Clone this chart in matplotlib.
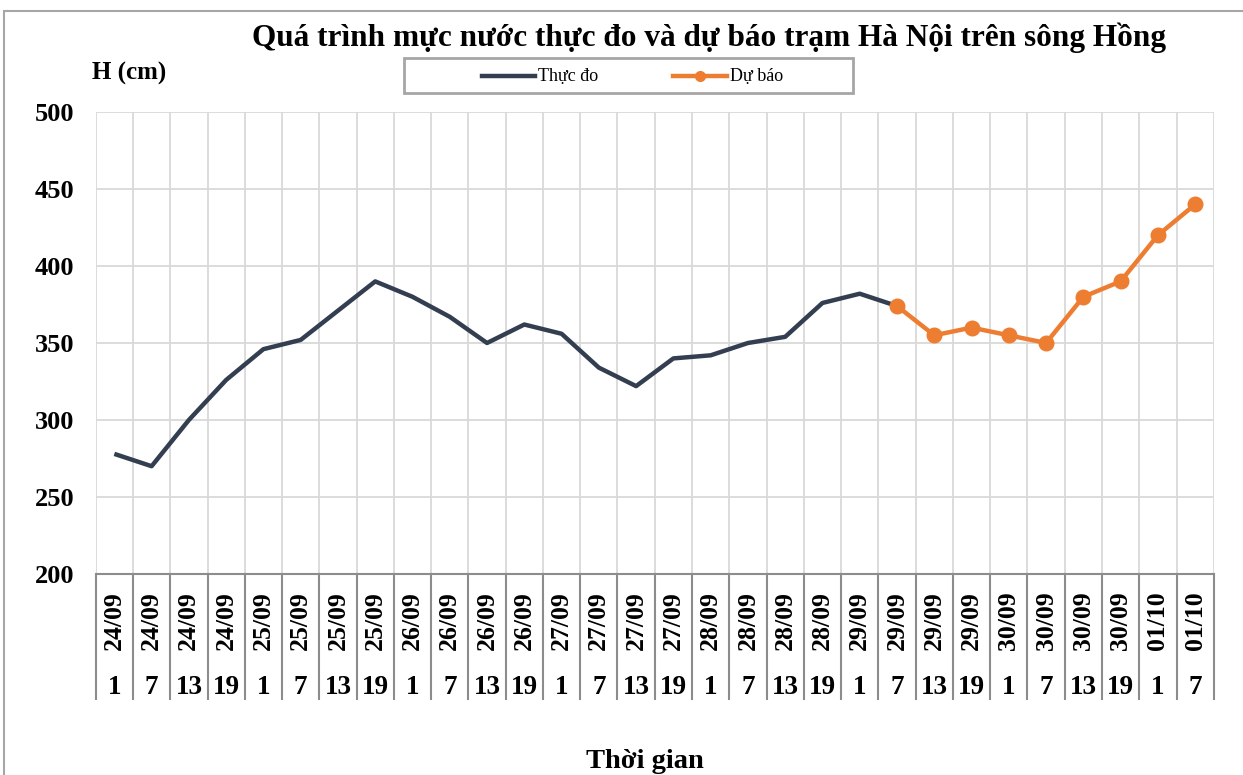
import numpy as np
import matplotlib.pyplot as plt
from matplotlib.patches import Rectangle
from matplotlib.lines import Line2D
import matplotlib.transforms as mtransforms

plt.rcParams['font.family'] = ['Liberation Serif', 'DejaVu Serif']

dates = ["24/09"] * 4 + ["25/09"] * 4 + ["26/09"] * 4 + ["27/09"] * 4 + \
        ["28/09"] * 4 + ["29/09"] * 4 + ["30/09"] * 4 + ["01/10"] * 2
hours = [1, 7, 13, 19] * 7 + [1, 7]

thuc_do = [278, 270, 300, 326, 346, 352, 371, 390, 380, 367, 350, 362,
           356, 334, 322, 340, 342, 350, 354, 376, 382, 374]
du_bao = [374, 355, 360, 355, 350, 380, 390, 420, 440]
du_bao_start = 21

fig = plt.figure(figsize=(12.43, 7.75), dpi=100)
W, H = 1243, 775

# outer chart border (cut at bottom/right like the screenshot)
fig.patches.append(Rectangle((4 / W, -0.1), 1.2, 1 - 11 / H + 0.1, transform=fig.transFigure,
                             fill=False, edgecolor="#a6a6a6", linewidth=1.5))

ax = fig.add_axes([95.7 / W, 1 - 574 / H, (1213.8 - 95.7) / W, 462 / H])

n = len(dates)
x = np.arange(n)
ax.plot(x[:len(thuc_do)], thuc_do, color="#333f50", lw=3.2, solid_capstyle="butt")
xf = np.arange(du_bao_start, du_bao_start + len(du_bao))
ax.plot(xf, du_bao, color="#ed7d31", lw=3.2, marker="o", markersize=10.5)

ax.set_xlim(-0.5, n - 0.5)
ax.set_ylim(200, 500)
ax.set_yticks(np.arange(200, 501, 50))
ax.set_xticks(np.arange(-0.5, n, 1.0))
ax.set_xticklabels([])
ax.tick_params(axis="both", length=0)
ax.tick_params(axis="y", pad=15.5, labelsize=19)
for lab in ax.get_yticklabels():
    lab.set_fontweight("bold")
ax.grid(True, color="#d9d9d9", lw=1.3)
ax.set_axisbelow(True)
for s in ["left", "right", "top"]:
    ax.spines[s].set_visible(False)
ax.spines["bottom"].set_color("#8c8c8c")
ax.spines["bottom"].set_linewidth(1.5)

# multi-level category axis
tr = mtransforms.blended_transform_factory(ax.transData, ax.transAxes)
sep_bottom = -(699 - 574) / 462
for b in np.arange(-0.5, n, 1.0):
    ax.add_line(Line2D([b, b], [0, sep_bottom], transform=tr, color="#8c8c8c",
                       lw=1.5, clip_on=False))
for i in range(n):
    ax.text(i, -(621 - 574) / 462, dates[i], transform=tr, rotation=90,
            ha="center", va="center", fontsize=18.5, fontweight="bold")
    ax.text(i, -(688 - 574) / 462, str(hours[i]), transform=tr,
            ha="center", va="center", fontsize=19.5, fontweight="bold")

fig.text(709 / W, 1 - 38 / H, "Quá trình mực nước thực đo và dự báo trạm Hà Nội trên sông Hồng",
         ha="center", va="center", fontsize=22.5, fontweight="bold")
fig.text(92 / W, 1 - 73 / H, "H (cm)", ha="left", va="center", fontsize=18, fontweight="bold")
fig.text(645 / W, 1 - 761 / H, "Thời gian", ha="center", va="center", fontsize=20.5,
         fontweight="bold")

# legend box
fig.patches.append(Rectangle((404 / W, 1 - 93 / H), (853 - 404) / W, 35 / H,
                             transform=fig.transFigure, fill=False,
                             edgecolor="#a6a6a6", linewidth=2))
fig.lines.append(Line2D([482 / W, 535 / W], [1 - 76 / H] * 2, transform=fig.transFigure,
                        color="#333f50", lw=3.2))
fig.text(538 / W, 1 - 76 / H, "Thực đo", ha="left", va="center", fontsize=13)
fig.lines.append(Line2D([673 / W, 727 / W], [1 - 76 / H] * 2, transform=fig.transFigure,
                        color="#ed7d31", lw=3.2))
fig.lines.append(Line2D([700 / W], [1 - 76 / H], transform=fig.transFigure,
                        color="#ed7d31", marker="o", markersize=7))
fig.text(730 / W, 1 - 76 / H, "Dự báo", ha="left", va="center", fontsize=13)

fig.savefig("out.png", dpi=100)
